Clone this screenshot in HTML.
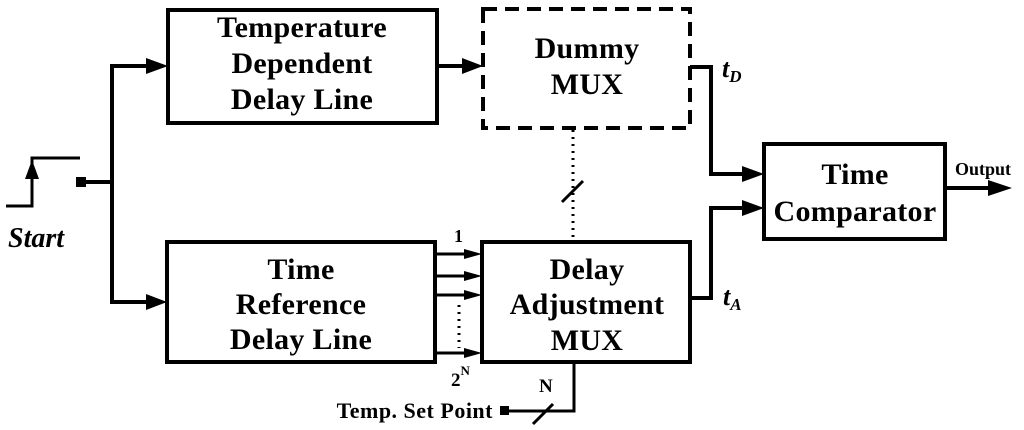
<!DOCTYPE html>
<html><head><meta charset="utf-8"><style>
html,body{margin:0;padding:0;background:#fff;}
svg{display:block;}
text{font-family:"Liberation Serif",serif;font-weight:bold;fill:#000;}
</style></head><body>
<svg width="1024" height="430" viewBox="0 0 1024 430" xmlns="http://www.w3.org/2000/svg">
<g stroke="#000" stroke-width="4" fill="none">
<rect x="168" y="10" width="269" height="113"/>
<rect x="483" y="9" width="207" height="119" stroke-dasharray="14,8"/>
<rect x="167" y="242" width="268" height="120"/>
<rect x="482" y="242" width="208" height="120"/>
<rect x="764" y="144" width="181" height="95"/>
<polyline points="6,206 32,206 32,158 80,158" stroke-width="3"/>
<line x1="86" y1="182" x2="112" y2="182"/>
<polyline points="112,182 112,66 146,66"/>
<polyline points="112,182 112,302 146,302"/>
<line x1="437" y1="66" x2="462" y2="66"/>
<polyline points="690,67 711,67 711,174 742,174"/>
<polyline points="690,298 711,298 711,208 742,208"/>
<line x1="945" y1="188" x2="990" y2="188"/>
<g stroke-width="3">
<line x1="435" y1="254" x2="465" y2="254"/>
<line x1="435" y1="276" x2="465" y2="276"/>
<line x1="435" y1="295" x2="465" y2="295"/>
<line x1="435" y1="353" x2="465" y2="353"/>
<polyline points="509,411 574,411 574,362"/>
<line x1="533" y1="424" x2="553" y2="404"/>
<line x1="562" y1="202" x2="583" y2="181"/>
</g>
<line x1="573" y1="130" x2="573" y2="242" stroke-width="3" stroke-dasharray="2,5"/>
<line x1="459" y1="305" x2="459" y2="348" stroke-width="3" stroke-dasharray="2,5"/>
</g>
<g fill="#000">
<path d="M25,179 L32,160 L39,179 Z"/>
<rect x="76" y="177" width="10" height="10"/>
<path d="M146,58 L168,66 L146,74 Z"/>
<path d="M146,294 L167,302 L146,310 Z"/>
<path d="M462,58 L483,66 L462,74 Z"/>
<path d="M742,166 L764,174 L742,182 Z"/>
<path d="M742,200 L764,208 L742,216 Z"/>
<path d="M988,180 L1012,188 L988,196 Z"/>
<path d="M464,249 L482,254 L464,259 Z"/>
<path d="M464,271 L482,276 L464,281 Z"/>
<path d="M464,290 L482,295 L464,300 Z"/>
<path d="M464,348 L482,353 L464,358 Z"/>
<rect x="500" y="406" width="9" height="9"/>
</g>
<g font-size="30" text-anchor="middle" letter-spacing="0.3">
<text x="302" y="37">Temperature</text>
<text x="302" y="73">Dependent</text>
<text x="302" y="109">Delay Line</text>
<text x="587" y="58">Dummy</text>
<text x="587" y="94">MUX</text>
<text x="301" y="279">Time</text>
<text x="301" y="314">Reference</text>
<text x="301" y="349">Delay Line</text>
<text x="587" y="279">Delay</text>
<text x="587" y="314">Adjustment</text>
<text x="587" y="350">MUX</text>
<text x="855" y="184">Time</text>
<text x="855" y="221">Comparator</text>
</g>
<text x="8" y="247" font-size="28" font-style="italic">Start</text>
<text x="722" y="77" font-size="26" font-style="italic">t<tspan font-size="17" dy="5">D</tspan></text>
<text x="723" y="305" font-size="26" font-style="italic">t<tspan font-size="17" dy="5">A</tspan></text>
<text x="955" y="175" font-size="18">Output</text>
<text x="454" y="242" font-size="18">1</text>
<text x="451" y="386" font-size="19">2<tspan font-size="13" dy="-11">N</tspan></text>
<text x="539" y="392" font-size="19">N</text>
<text x="493" y="418" font-size="22" text-anchor="end" letter-spacing="0.5">Temp. Set Point</text>
</svg>
</body></html>
